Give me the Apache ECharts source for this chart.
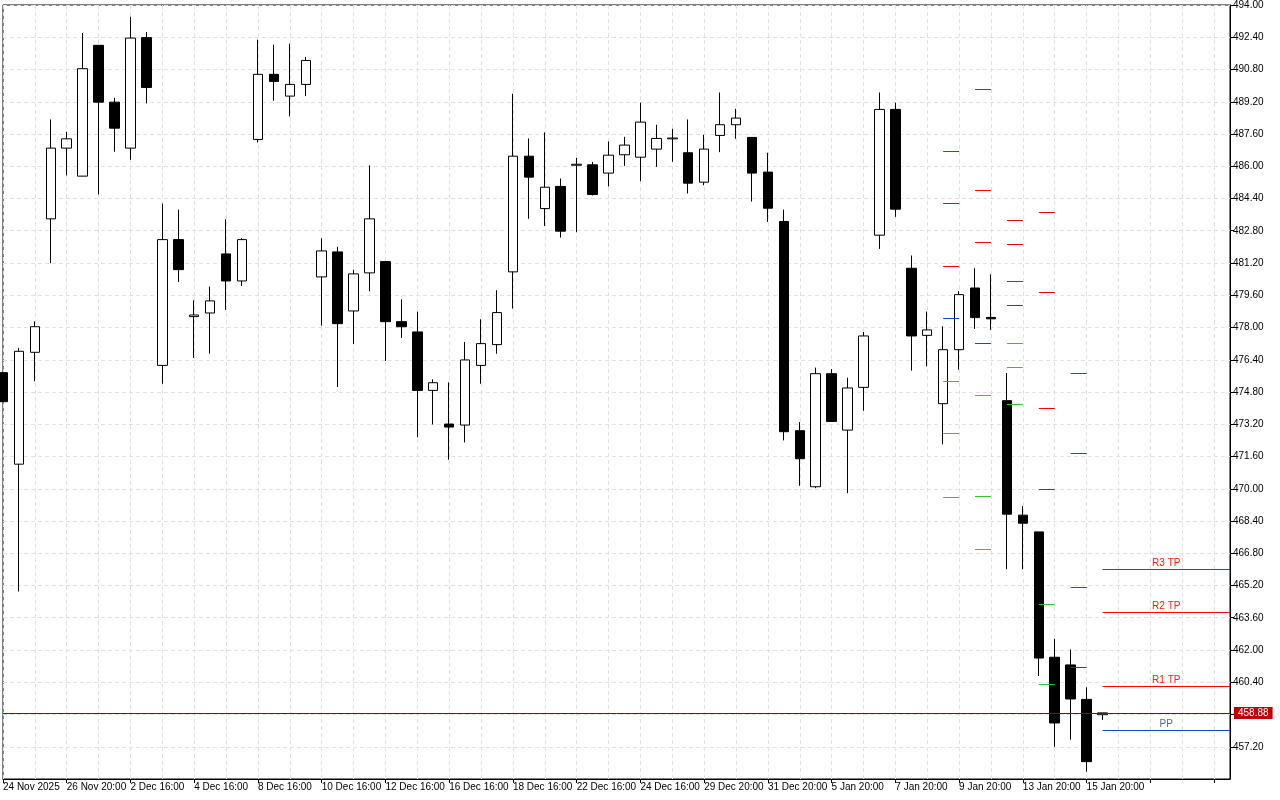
<!DOCTYPE html>
<html><head><meta charset="utf-8">
<script src="https://cdn.jsdelivr.net/npm/echarts@6/dist/echarts.min.js"></script>
<style>html,body{margin:0;padding:0;background:#fff}#c{width:1280px;height:800px}</style>
</head><body><div id="c"></div>
<script>
const dateLabels = ['24 Nov 2025','26 Nov 20:00','2 Dec 16:00','4 Dec 16:00','8 Dec 16:00','10 Dec 16:00','12 Dec 16:00','16 Dec 16:00','18 Dec 16:00','22 Dec 16:00','24 Dec 16:00','29 Dec 20:00','31 Dec 20:00','5 Jan 20:00','7 Jan 20:00','9 Jan 20:00','13 Jan 20:00','15 Jan 20:00'];
// [open, close, low, high]
const opens  = [475.76,471.22,476.77,483.39,486.90,485.51,492.00,489.18,486.90,492.38,476.12,482.36,478.54,478.72,481.65,480.31,487.33,490.56,489.48,490.06,480.51,481.75,478.82,480.71,481.27,478.29,477.78,474.88,473.21,473.16,476.12,477.15,480.76,486.50,483.90,485.00,486.05,486.07,485.66,486.57,486.45,486.85,487.36,486.67,485.21,487.53,488.06,487.43,485.71,483.26,472.88,470.10,475.71,472.91,475.03,482.58,488.82,480.94,477.61,474.22,476.90,479.96,478.50,474.37,468.69,467.86,461.64,461.26,459.55,458.79];
const closes = [474.32,476.82,478.04,486.90,487.36,490.84,489.18,487.89,492.36,489.91,482.36,480.87,478.62,479.32,480.31,482.36,490.56,490.21,490.06,491.25,481.80,478.19,480.66,483.39,478.29,478.04,474.88,475.26,473.06,476.39,477.20,478.74,486.50,485.46,484.96,482.78,486.10,484.60,486.55,487.05,488.19,487.38,487.40,485.16,486.85,488.06,488.39,485.66,483.92,472.83,471.49,475.71,473.34,475.00,477.58,488.82,483.87,477.58,477.88,476.90,479.63,478.49,478.43,468.74,468.29,461.60,458.38,459.57,456.46,458.88];
const lows   = [474.30,464.90,475.33,481.19,485.54,485.50,484.60,486.72,486.32,489.12,475.21,480.26,476.49,476.70,478.87,480.06,487.18,489.25,488.47,489.48,478.09,475.05,477.18,479.80,476.34,477.48,472.55,473.19,471.44,472.30,475.21,476.70,478.94,483.39,483.04,482.46,482.73,484.55,485.00,486.02,485.26,485.97,486.22,484.65,485.06,486.70,487.36,484.25,483.24,472.40,470.15,470.03,473.34,469.78,473.87,481.90,483.49,475.86,476.07,472.20,475.91,477.93,477.88,466.01,466.01,460.71,457.20,457.55,455.96,458.53];
const highs  = [475.80,476.99,478.30,488.32,487.71,492.61,492.00,489.40,493.42,492.66,484.15,483.85,479.35,480.03,483.37,482.43,492.28,492.03,492.08,491.42,482.43,482.00,480.87,486.04,481.27,479.40,478.79,475.43,475.28,477.28,478.41,479.85,489.60,487.38,487.68,485.39,486.42,486.22,487.23,487.46,489.15,488.06,487.86,488.32,487.56,489.66,488.85,487.43,486.67,483.85,473.31,476.01,475.94,475.51,477.78,489.66,489.15,481.57,478.79,478.06,479.80,480.94,480.64,475.74,469.14,467.86,462.55,462.03,460.15,458.88];
const lastPrice = 458.88;
// pivot level segments: start candle index (segment spans 1 candle)
const pivotStarts = [59, 61, 63, 65, 67];
const resistLevels = [[486.75,484.17,481.04],[489.81,484.80,482.23],[483.31,482.13,480.28],[483.74,479.75,474.00],[475.74,471.77,465.10]];
const pivotLevels  = [478.44, 477.20, 479.10, 470.00, 461.13];
const supportLevels = [[475.33,472.76,469.60],[474.65,469.65,467.00],[477.23,476.04,474.17],[464.29,460.28],[]];
// current projection
const tpNames  = ['R3 TP','R2 TP','R1 TP','PP'];
const tpLevels = [465.99, 463.86, 460.18, 458.03];
const tpStart = 69;

const FONT = 'Liberation Sans';
const NCAT = 78;
const categories = [];
for (let i = 0; i < NCAT; i++) categories.push(i % 4 === 0 && dateLabels[i/4] ? dateLabels[i/4] : 'c' + i);
const candleData = opens.map((o, i) => [o, closes[i], lows[i], highs[i]]);

const seg = (x0, x1, y, color, label, lc) => {
  const a = {coord: [x0, y], lineStyle: {color: color, width: 1, type: 'solid'}};
  if (label) a.label = {show: true, formatter: label, position: 'insideMiddleTop', color: lc, fontSize: 10, fontFamily: FONT, distance: 1};
  else a.label = {show: false};
  return [a, {coord: [x1, y]}];
};
const ml = [];
pivotStarts.forEach((s, g) => {
  resistLevels[g].forEach(v => ml.push(seg(s, s + 1, v, '#ff0000')));
  ml.push(seg(s, s + 1, pivotLevels[g], '#0050d0'));
  supportLevels[g].forEach(v => ml.push(seg(s, s + 1, v, '#2ec82e')));
});
tpLevels.forEach((v, i) => {
  const isPP = tpNames[i] === 'PP';
  ml.push(seg(tpStart, NCAT - 1, v, isPP ? '#0050d0' : '#ff0000', tpNames[i], isPP ? '#4a6aa8' : '#ff2000'));
});

const chart = echarts.init(document.getElementById('c'));
chart.setOption({
  animation: false,
  backgroundColor: '#fff',
  grid: {left: 2, top: 5, right: 50, bottom: 21, show: true, borderColor: '#000', borderWidth: 1},
  xAxis: {
    type: 'category', data: categories, boundaryGap: false,
    axisLine: {lineStyle: {color: '#000'}},
    axisTick: {interval: i => i % 4 === 0, length: 4, lineStyle: {color: '#000'}},
    axisLabel: {interval: i => i % 4 === 0, showMinLabel: true, hideOverlap: false, formatter: v => v.charAt(0) === 'c' ? '' : v, align: 'left', color: '#000', fontSize: 10, fontFamily: FONT, margin: 3},
    splitLine: {show: true, interval: i => i % 2 === 0, lineStyle: {color: '#e2e2e2', type: [4, 3]}}
  },
  yAxis: {
    type: 'value', position: 'right', min: 455.6, max: 494, interval: 1.6, scale: true,
    axisLine: {show: true, lineStyle: {color: '#000'}},
    axisTick: {show: true, length: 4, lineStyle: {color: '#000'}},
    axisLabel: {showMinLabel: false, formatter: v => v.toFixed(2), color: '#000', fontSize: 10, fontFamily: FONT, margin: 3},
    splitLine: {show: true, lineStyle: {color: '#e2e2e2', type: [4, 3]}}
  },
  series: [{
    type: 'candlestick', data: candleData, barWidth: 10,
    itemStyle: {color: '#fff', color0: '#000', borderColor: '#000', borderColor0: '#000', borderWidth: 1},
    markLine: {
      silent: true, symbol: 'none', animation: false,
      data: ml.concat([{yAxis: lastPrice, lineStyle: {color: '#7a1010', width: 1, type: 'solid'},
        label: {show: true, position: 'end', formatter: lastPrice.toFixed(2), backgroundColor: '#c00000', color: '#fff', fontSize: 10, fontFamily: FONT, padding: [1, 4], distance: 4}}])
    }
  }]
});
</script></body></html>
